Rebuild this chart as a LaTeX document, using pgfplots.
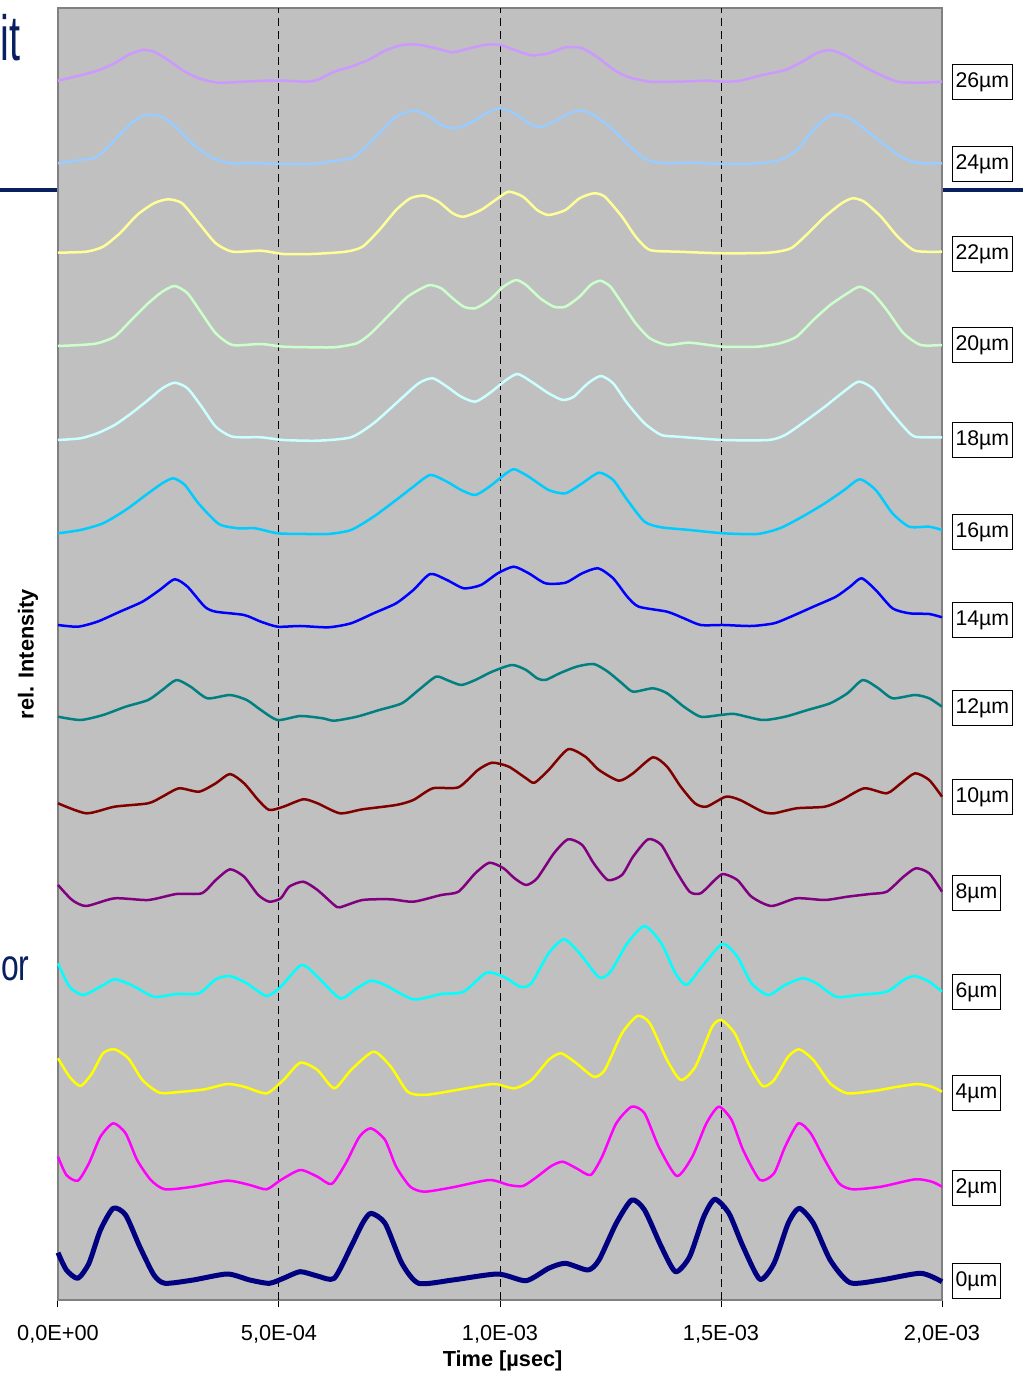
\documentclass[border=0pt]{standalone}
\usepackage{pgfplots}
\pgfplotsset{compat=1.18}
\usepackage{graphicx}
\usepackage{fontspec}
\setmainfont{Liberation Sans}
\definecolor{slidenavy}{RGB}{8,32,96}
\definecolor{bggray}{RGB}{192,192,192}
\definecolor{frame}{RGB}{128,128,128}
\definecolor{c0}{RGB}{0,0,128}
\definecolor{c2}{RGB}{255,0,255}
\definecolor{c4}{RGB}{255,255,0}
\definecolor{c6}{RGB}{0,255,255}
\definecolor{c8}{RGB}{128,0,128}
\definecolor{c10}{RGB}{128,0,0}
\definecolor{c12}{RGB}{0,128,128}
\definecolor{c14}{RGB}{0,0,255}
\definecolor{c16}{RGB}{0,204,255}
\definecolor{c18}{RGB}{204,255,255}
\definecolor{c20}{RGB}{204,255,204}
\definecolor{c22}{RGB}{255,255,153}
\definecolor{c24}{RGB}{153,204,255}
\definecolor{c26}{RGB}{204,153,255}
\begin{document}
\begin{tikzpicture}
\useasboundingbox (0,0) rectangle (409.2pt,549.2pt);
\fill[white] (0,0) rectangle (409.2pt,549.2pt);
% slide remnants
\node[anchor=base east, inner sep=0pt, text=slidenavy, font=\fontsize{25.5}{26}\selectfont] at (8.2pt,524.8pt) {\scalebox{0.62}[1]{it}};
\node[anchor=base west, inner sep=0pt, text=slidenavy, font=\fontsize{17.7}{18}\selectfont] at (0.3pt,156.8pt) {\scalebox{0.72}[1]{or}};
\draw[slidenavy, line width=1.7pt] (0,473.2pt) -- (23.2pt,473.2pt);
\draw[slidenavy, line width=1.7pt] (376.8pt,473.2pt) -- (409.2pt,473.2pt);
\begin{axis}[
  at={(23.2pt,29.2pt)}, anchor=south west,
  scale only axis, width=353.6pt, height=516.8pt,
  xmin=0, xmax=2000, ymin=0, ymax=1292,
  clip=false,
  axis background/.style={fill=bggray},
  axis line style={draw=frame, line width=0.8pt},
  ytick=\empty,
  xtick={0,500,1000,1500,2000},
  xticklabels={\mbox{0,0E+00},\mbox{5,0E-04},\mbox{1,0E-03},\mbox{1,5E-03},\mbox{2,0E-03}},
  xtick pos=bottom, xtick align=outside,
  major tick length=2.8pt,
  tick style={black, line width=0.4pt},
  extra x ticks={500,1000,1500}, extra x tick labels={},
  extra x tick style={xmajorgrids=true, major tick length=0pt},
  major grid style={black, line width=0.4pt, dash pattern=on 3.2pt off 2pt},
  ticklabel style={font=\fontsize{8.7}{10}\selectfont},
  xticklabel style={yshift=-3.6pt},
  xlabel={\textbf{Time [µsec]}},
  ylabel={\textbf{rel. Intensity}},
  label style={font=\fontsize{8.7}{10}\selectfont},
  xlabel style={at={(axis description cs:0.503,-0.0475)}, anchor=center},
  ylabel style={at={(axis description cs:-0.034,0.5)}, anchor=center},
  every axis plot/.append style={no markers, line width=1pt, line join=round, smooth, tension=0.4},
]
% 26 um
\addplot[c26] coordinates {(0,1219.3)(38,1223.3)(89,1229.3)(128,1236.7)(159,1245)(191,1250)(217,1248.3)(249,1240)(281,1230)(319,1221.7)(364,1217.3)(421,1218.3)(472,1219.3)(510,1219.3)(561,1218.3)(587,1220)(625,1228.3)(663,1233.3)(702,1240)(740,1249.3)(778,1255)(816,1255.3)(855,1251.7)(893,1247.7)(931,1251.7)(969,1255.3)(1001,1255)(1033,1250)(1071,1244.7)(1110,1246.7)(1148,1252.7)(1186,1251.7)(1224,1241.7)(1256,1230.7)(1288,1223.3)(1339,1218.3)(1403,1218.3)(1467,1219.3)(1505,1218.3)(1543,1219.3)(1594,1225)(1645,1230)(1684,1238.3)(1716,1246.7)(1747,1250)(1779,1245)(1811,1236.7)(1850,1227.3)(1900,1218.3)(1952,1217.3)(2000,1218.3)};
% 24 um
\addplot[c24] coordinates {(0,1136.7)(51,1140)(89,1143.3)(128,1160)(166,1176.7)(191,1184)(217,1185)(242,1181.7)(274,1170)(312,1153.3)(351,1141.7)(395,1136.7)(446,1136.7)(510,1136)(574,1136)(612,1138.3)(663,1141.7)(689,1150)(727,1166.7)(765,1183.3)(804,1189.3)(835,1185)(867,1175)(899,1171.7)(931,1176.7)(969,1186.7)(1001,1191.7)(1033,1186.7)(1065,1176.7)(1091,1172.7)(1122,1178.3)(1161,1187.3)(1186,1189.3)(1218,1183.3)(1256,1170)(1295,1153.3)(1333,1140)(1378,1136.7)(1429,1137.3)(1505,1136)(1582,1136.7)(1633,1140)(1671,1150)(1709,1170)(1741,1183.3)(1767,1185)(1798,1180)(1837,1166.7)(1875,1153.3)(1913,1141.7)(1952,1136.7)(2000,1136.7)};
% 22 um
\addplot[c22] coordinates {(0,1047.3)(64,1048.3)(102,1053.3)(140,1066.7)(179,1085)(217,1096.7)(249,1100.7)(281,1096.7)(319,1076.7)(357,1056.7)(395,1048.3)(459,1049.3)(510,1046)(574,1046)(651,1048.3)(689,1053.3)(727,1070)(765,1090)(797,1101.7)(829,1104.3)(861,1098.3)(893,1086.7)(918,1083.3)(957,1090)(995,1101.7)(1020,1108.3)(1052,1103.3)(1084,1090)(1110,1085)(1148,1090)(1180,1101.7)(1212,1106.7)(1237,1103.3)(1276,1083.3)(1307,1063.3)(1339,1050)(1403,1048.3)(1505,1046.7)(1608,1047.3)(1658,1051.7)(1697,1066.7)(1735,1083.3)(1773,1096.7)(1798,1101.7)(1824,1098.3)(1862,1083.3)(1900,1063.3)(1939,1049.3)(2000,1048.3)};
% 20 um
\addplot[c20] coordinates {(0,954)(51,955)(89,956.7)(128,963.3)(166,980)(204,996.7)(236,1008.3)(264,1014)(293,1006.7)(325,986.7)(357,966.7)(395,955)(459,956)(510,953.3)(574,952.7)(625,952.7)(676,956.7)(708,966.7)(753,986.7)(791,1003.3)(823,1011.7)(842,1015)(867,1011.7)(893,1001.7)(918,993.3)(944,991.7)(976,1000)(1008,1013.3)(1036,1020)(1059,1015)(1091,1001.7)(1122,993.3)(1148,993.3)(1180,1003.3)(1205,1015)(1227,1019.3)(1250,1013.3)(1276,996.7)(1307,976.7)(1339,961.7)(1378,955)(1429,957.3)(1505,953.3)(1582,953.3)(1633,956.7)(1671,963.3)(1709,980)(1747,995)(1786,1006.7)(1814,1013.3)(1843,1006.7)(1875,990)(1913,966.7)(1952,955)(2000,955)};
% 18 um
\addplot[c18] coordinates {(0,860)(51,861.7)(89,866.7)(128,875)(166,886.7)(204,900)(236,911.7)(264,917.3)(293,911.7)(325,893.3)(357,873.3)(395,863.3)(459,862.7)(510,860)(587,859.3)(663,862.7)(714,876.7)(765,896.7)(816,916.7)(848,921.7)(880,913.3)(912,903.3)(944,898.3)(976,906.7)(1014,920)(1040,926)(1071,918.3)(1110,906.7)(1142,900)(1167,903.3)(1199,916.7)(1228,924)(1256,916.7)(1288,896.7)(1327,876.7)(1365,865)(1403,863.3)(1505,860)(1608,860)(1645,865)(1684,876.7)(1735,893.3)(1773,906.7)(1811,918.3)(1843,911.7)(1875,893.3)(1913,873.3)(1939,863.3)(2000,862.7)};
% 16 um
\addplot[c16] coordinates {(0,766.7)(51,770)(102,776.7)(153,790)(204,806.7)(236,816.7)(261,821.7)(287,815)(319,796)(364,776)(408,771.7)(446,771.7)(497,766.7)(561,766)(612,766)(663,770)(714,783.3)(765,800)(804,813.3)(842,825)(880,818.3)(912,810)(944,805)(976,813.3)(1014,826.7)(1033,830.7)(1065,823.3)(1110,810)(1148,806.7)(1186,816.7)(1224,827.3)(1256,820)(1288,800)(1327,778.3)(1365,772.7)(1429,770)(1505,766.7)(1582,766)(1633,771.7)(1684,783.3)(1735,796.7)(1779,810)(1814,820.7)(1850,810)(1888,786.7)(1926,773.3)(1971,773.3)(2000,770)};
% 14 um
\addplot[c14] coordinates {(0,675)(45,673.3)(89,678.3)(140,688.3)(191,698.3)(230,710)(264,720.7)(293,713.3)(332,693.3)(357,688.3)(421,685)(459,678.3)(497,673.3)(548,674)(612,672.7)(663,676.7)(714,686.7)(765,696.7)(804,710)(842,726)(880,720)(918,711.7)(957,715)(995,726.7)(1031,733.3)(1065,726.7)(1103,716.7)(1148,717.3)(1186,726.7)(1222,731.7)(1256,721.7)(1288,703.3)(1314,693.3)(1378,688.3)(1416,681.7)(1454,675)(1505,675)(1569,674)(1620,676.7)(1658,683.3)(1709,693.3)(1760,703.3)(1792,713.3)(1818,721.7)(1850,710)(1888,691.7)(1926,686.7)(1971,686)(2000,682.7)};
% 12 um
\addplot[c12] coordinates {(0,583.3)(51,580)(102,585)(153,593.3)(204,600)(236,610)(268,620)(300,613.3)(338,601.7)(389,605)(427,600)(459,590)(497,580)(548,584)(599,581.7)(625,579.3)(676,583.3)(727,590)(778,596.7)(816,610)(855,623.3)(880,620)(912,615)(944,620)(982,628.3)(1027,635)(1059,630)(1084,621.7)(1103,620)(1135,626.7)(1173,633.3)(1212,636)(1244,628.3)(1276,616.7)(1301,608.3)(1346,611.7)(1378,606.7)(1416,593.3)(1454,583.3)(1499,585)(1531,586)(1594,580)(1645,583.3)(1696,590)(1747,596.7)(1786,606.7)(1821,620)(1856,611.7)(1888,601.7)(1939,605)(1971,601.7)(2000,593.3)};
% 10 um
\addplot[c10] coordinates {(0,496.7)(64,486.7)(128,493.3)(204,496.7)(236,503.3)(274,511.7)(319,508.3)(357,516.7)(389,526)(421,516.7)(453,500)(478,490)(510,493.3)(555,500.7)(587,496.7)(638,486.7)(689,490.7)(765,495)(804,500)(848,511.7)(906,512.7)(950,530)(982,537.3)(1020,533.3)(1059,521.7)(1078,517.3)(1110,530)(1154,550.7)(1193,543.3)(1224,530)(1269,519.3)(1301,526.7)(1346,542.7)(1378,533.3)(1409,513.3)(1441,496.7)(1467,493.3)(1511,503.3)(1543,500)(1594,488.3)(1620,486.7)(1671,491.7)(1735,493.3)(1773,500)(1824,511.7)(1875,506.7)(1907,516.7)(1939,526.7)(1971,520)(2000,503.3)};
% 8 um
\addplot[c8] coordinates {(0,415)(32,400)(64,394)(128,401.7)(204,400)(268,406)(325,406.7)(357,420)(389,430.7)(421,423.3)(453,405)(478,398.3)(504,401.7)(523,413.3)(555,418.3)(587,410)(625,395)(638,392.7)(689,400)(753,400.7)(804,398.3)(867,405)(906,408.3)(944,426.7)(976,437.3)(1008,431.7)(1033,421.7)(1059,415)(1084,421.7)(1122,446.7)(1154,460.7)(1186,455)(1212,436.7)(1244,420)(1276,425)(1301,443.3)(1335,460.7)(1365,455)(1397,430)(1429,408.3)(1454,406.7)(1486,420)(1505,426)(1537,420)(1569,403.3)(1614,394)(1671,401.7)(1735,400)(1786,403.3)(1837,406)(1875,408.3)(1913,423.3)(1941,431.7)(1971,426.7)(2000,408.3)};
% 6 um
\addplot[c6] coordinates {(0,336.7)(26,313.3)(57,305)(96,313.3)(128,320.7)(166,315)(217,303.3)(268,306)(319,306.7)(357,320.7)(389,324)(427,316.7)(472,304)(504,313.3)(551,335)(587,323.3)(638,301.7)(676,311.7)(708,319.3)(740,315)(804,300.7)(867,306)(918,308.3)(969,327.3)(1008,323.3)(1046,313.3)(1071,316.7)(1110,346.7)(1145,360.7)(1180,346.7)(1224,322.7)(1250,328.3)(1288,356.7)(1327,374)(1365,356.7)(1397,326.7)(1422,315)(1454,331.7)(1503,356)(1537,343.3)(1569,316.7)(1607,305)(1645,315)(1684,321.7)(1716,316.7)(1760,303.3)(1811,305)(1875,308.3)(1913,320)(1939,324)(1971,318.3)(2000,308.3)};
% 4 um
\addplot[c4] coordinates {(0,241.7)(26,223.3)(51,214)(77,226.7)(102,246.7)(128,250.7)(159,241.7)(191,220)(230,207.3)(281,208.3)(332,210.7)(383,216)(421,213.3)(472,206.7)(510,220)(548,237.3)(587,230)(625,211.7)(663,230)(714,248.3)(753,233.3)(791,208.3)(829,205)(893,209.3)(944,213.3)(989,216)(1033,211.7)(1071,220)(1110,240)(1138,246.7)(1173,236.7)(1212,223.3)(1237,230)(1276,266.7)(1311,284)(1339,276.7)(1378,240)(1409,220)(1442,233.3)(1480,273.3)(1501,280)(1531,266.7)(1562,236.7)(1594,214)(1620,220)(1652,243.3)(1677,250.7)(1709,240)(1747,216.7)(1786,206.7)(1849,209.3)(1900,213.3)(1945,216)(1977,213.3)(2000,208.3)};
% 2 um
\addplot[c2] coordinates {(0,143.3)(19,125)(45,119.3)(70,136.7)(96,163.3)(125,176.7)(153,166.7)(179,140)(210,120)(242,110.7)(306,113.3)(383,119.3)(434,115)(472,110.7)(504,120)(548,130)(587,123.3)(619,116)(651,136.7)(682,163.3)(708,171.7)(740,160)(765,133.3)(797,113.3)(829,108.3)(893,112.7)(976,120)(1020,115)(1052,114)(1084,123.3)(1116,134)(1142,138.3)(1173,131.7)(1205,125)(1231,143.3)(1263,176.7)(1298,193.3)(1327,186.7)(1359,153.3)(1400,124)(1435,143.3)(1467,176.7)(1495,193.3)(1524,180)(1550,150)(1588,120)(1620,126.7)(1645,153.3)(1675,176.7)(1703,166.7)(1735,140)(1767,116.7)(1798,110.7)(1862,113.3)(1939,120.7)(1977,118.3)(2000,113.3)};
% 0 um
\addplot[c0, line width=2pt] coordinates {(0,47.3)(19,30)(45,21.7)(70,36.7)(96,70)(125,91.7)(153,85)(185,53.3)(217,25)(242,16.7)(306,20)(383,26)(434,20)(478,16.7)(510,21.7)(548,28.3)(587,24)(625,21.7)(663,53.3)(689,76.7)(708,86.7)(740,76.7)(778,36.7)(816,16.7)(893,20)(995,26)(1059,19.3)(1110,31.7)(1148,36.7)(1199,30)(1224,40)(1263,76.7)(1298,100)(1327,90)(1365,53.3)(1397,28.3)(1429,43.3)(1461,83.3)(1486,100.7)(1518,86.7)(1550,53.3)(1588,20.7)(1620,36.7)(1652,76.7)(1677,91.7)(1709,76.7)(1747,40)(1792,17.3)(1862,20)(1952,26.7)(2000,18.3)};
% labels
\begin{scope}[every node/.style={draw=black, line width=0.4pt, fill=white, inner xsep=1.2pt, inner ysep=3.3pt, anchor=west, xshift=4pt, yshift=-0.8pt, font=\fontsize{8.5}{10}\selectfont}]
\node at (axis cs:2000,1220) {26µm};
\node at (axis cs:2000,1138) {24µm};
\node at (axis cs:2000,1048) {22µm};
\node at (axis cs:2000,957) {20µm};
\node at (axis cs:2000,862) {18µm};
\node at (axis cs:2000,770) {16µm};
\node at (axis cs:2000,682) {14µm};
\node at (axis cs:2000,594) {12µm};
\node at (axis cs:2000,505) {10µm};
\node at (axis cs:2000,409) {8µm};
\node at (axis cs:2000,310) {6µm};
\node at (axis cs:2000,209) {4µm};
\node at (axis cs:2000,114) {2µm};
\node at (axis cs:2000,21) {0µm};
\end{scope}
\end{axis}
\end{tikzpicture}
\end{document}
